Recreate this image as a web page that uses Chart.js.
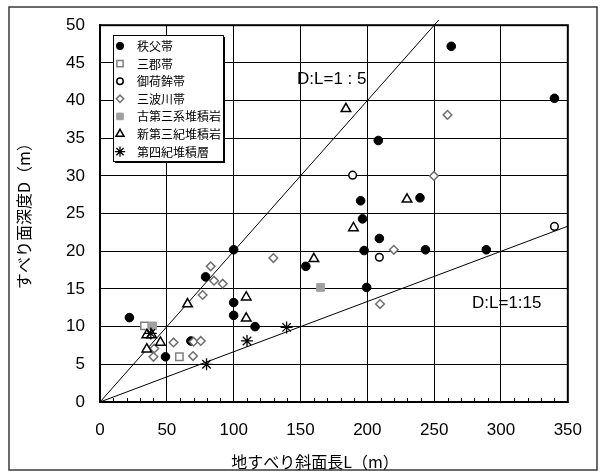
<!DOCTYPE html>
<html>
<head>
<meta charset="utf-8">
<script src="https://cdn.jsdelivr.net/npm/chart.js@4/dist/chart.umd.min.js"></script>
<style>
html,body{margin:0;padding:0;background:#fff;}
canvas{display:block;}
</style>
</head>
<body>
<canvas id="c" width="600" height="472" style="width:600px;height:472px"></canvas>
<script>
// ---- data (L: slope length m, D: slip-surface depth m) ----
const chichibuL = [22, 49, 68, 79, 100, 100, 100, 116, 154, 195, 196.4, 197.6, 199.5, 208.2, 209, 239.4, 243.5, 262.8, 289, 340];
const chichibuD = [11.2, 6, 8.1, 16.6, 20.2, 13.2, 11.5, 10, 18, 26.7, 24.3, 20.1, 15.2, 34.7, 21.7, 27.1, 20.2, 47.2, 20.2, 40.3];
const sangunL = [33.3, 59.4];
const sangunD = [10.1, 6];
const mikabuL = [189, 209, 340];
const mikabuD = [30.1, 19.2, 23.3];
const sanbagawaL = [40.6, 40, 55, 70, 75.4, 69.6, 76.8, 82.8, 85.3, 91.8, 129.7, 209.5, 219.8, 249.8, 260];
const sanbagawaD = [7.1, 6, 7.9, 8, 8.1, 6.1, 14.2, 18, 16.1, 15.7, 19.1, 13, 20.2, 30, 38.1];
const paleogeneL = [39.4, 165];
const paleogeneD = [10.1, 15.2];
const neogeneL = [35, 38.6, 45.2, 35, 65.5, 109.4, 109.4, 160, 184, 189.6, 229.7];
const neogeneD = [8.9, 8.9, 7.9, 7, 13, 13.9, 11.1, 19, 38.9, 23.1, 26.9];
const quaternaryL = [38, 79.7, 110, 139.6];
const quaternaryD = [9.1, 5, 8.1, 9.9];
const line5L = [0, 253.5];
const line5D = [0, 50.7];
const line15L = [0, 350];
const line15D = [0, 23.33];
const xTicks = [0, 50, 100, 150, 200, 250, 300, 350];
const yTicks = [0, 5, 10, 15, 20, 25, 30, 35, 40, 45, 50];
const seriesNames = ['秩父帯', '三郡帯', '御荷鉾帯', '三波川帯', '古第三系堆積岩', '新第三紀堆積岩', '第四紀堆積層'];
const xTitle = '地すべり斜面長L（m）';
const yTitle = 'すべり面深度D（m）';
const note5 = 'D:L=1 : 5';
const note15 = 'D:L=1:15';

const pts = (xs, ys) => xs.map((v, i) => ({x: v, y: ys[i]}));
const CJK = '"Noto Sans CJK JP", "Noto Sans", sans-serif';
const NUM = '"Liberation Sans", Arial, sans-serif';

const datasets = [
  {label: seriesNames[0], data: pts(chichibuL, chichibuD), pointStyle: 'circle', pointRadius: 4.3, backgroundColor: '#000', borderColor: '#000', borderWidth: 1, order: 7, inLegend: true},
  {label: seriesNames[1], data: pts(sangunL, sangunD), pointStyle: 'rect', pointRadius: 5.2, backgroundColor: '#fff', borderColor: '#808080', borderWidth: 1.5, order: 6, inLegend: true},
  {label: seriesNames[2], data: pts(mikabuL, mikabuD), pointStyle: 'circle', pointRadius: 3.8, backgroundColor: '#fff', borderColor: '#000', borderWidth: 1.5, order: 5, inLegend: true},
  {label: seriesNames[3], data: pts(sanbagawaL, sanbagawaD), pointStyle: 'rectRot', pointRadius: 4.3, backgroundColor: '#fff', borderColor: '#707070', borderWidth: 1.5, order: 4, inLegend: true},
  {label: seriesNames[4], data: pts(paleogeneL, paleogeneD), pointStyle: 'rect', pointRadius: 5.5, backgroundColor: '#a0a0a0', borderColor: '#a0a0a0', borderWidth: 1, order: 3, inLegend: true},
  {label: seriesNames[5], data: pts(neogeneL, neogeneD), pointStyle: 'triangle', pointRadius: 5.5, backgroundColor: '#fff', borderColor: '#000', borderWidth: 1.5, order: 2, inLegend: true},
  {label: seriesNames[6], data: pts(quaternaryL, quaternaryD), pointStyle: 'star', pointRadius: 6, backgroundColor: '#000', borderColor: '#000', borderWidth: 1.3, order: 1, inLegend: true},
  {label: 'line5', data: pts(line5L, line5D), showLine: true, pointRadius: 0, borderColor: '#000', borderWidth: 1, clip: false, order: 10},
  {label: 'line15', data: pts(line15L, line15D), showLine: true, pointRadius: 0, borderColor: '#000', borderWidth: 1, order: 10}
];

function drawMarker(ctx, style, r, x, y) {
  ctx.beginPath();
  if (style === 'circle') {
    ctx.arc(x, y, r, 0, Math.PI * 2);
    ctx.fill(); ctx.stroke();
  } else if (style === 'rect') {
    const s = Math.SQRT1_2 * r;
    ctx.rect(x - s, y - s, 2 * s, 2 * s);
    ctx.fill(); ctx.stroke();
  } else if (style === 'rectRot') {
    ctx.moveTo(x - r, y); ctx.lineTo(x, y - r); ctx.lineTo(x + r, y); ctx.lineTo(x, y + r); ctx.closePath();
    ctx.fill(); ctx.stroke();
  } else if (style === 'triangle') {
    const h = r * 1.5, w = r * Math.sqrt(3) / 2;
    ctx.moveTo(x, y - r); ctx.lineTo(x + w, y + r / 2); ctx.lineTo(x - w, y + r / 2); ctx.closePath();
    ctx.fill(); ctx.stroke();
  } else if (style === 'star') {
    for (let k = 0; k < 4; k++) {
      const a = k * Math.PI / 4;
      ctx.moveTo(x - Math.cos(a) * r, y - Math.sin(a) * r);
      ctx.lineTo(x + Math.cos(a) * r, y + Math.sin(a) * r);
    }
    ctx.stroke();
  }
}

const decor = {
  id: 'decor',
  beforeDraw(chart) {
    const ctx = chart.ctx;
    ctx.save();
    ctx.fillStyle = '#fff';
    ctx.fillRect(0, 0, chart.width, chart.height);
    ctx.strokeStyle = '#3a3a3a';
    ctx.lineWidth = 1.5;
    ctx.strokeRect(9, 7, 588, 463);
    ctx.restore();
  },
  beforeDatasetsDraw(chart) {
    const {ctx, chartArea: a, scales: {x}} = chart;
    ctx.save();
    ctx.strokeStyle = '#000';
    ctx.lineWidth = 1;
    ctx.beginPath();
    for (let v = 10; v < 350; v += 10) {
      if (v % 50 === 0) continue;
      const px = Math.round(x.getPixelForValue(v)) + 0.5;
      ctx.moveTo(px, a.bottom);
      ctx.lineTo(px, a.bottom - 4);
    }
    ctx.stroke();
    ctx.lineWidth = 2;
    ctx.strokeRect(a.left, a.top, a.right - a.left, a.bottom - a.top);
    ctx.restore();
  },
  afterDraw(chart) {
    const {ctx, chartArea: a} = chart;
    ctx.save();
    // legend box
    const bx = 113.5, by = 35.5, bw = 110, bh = 126;
    ctx.fillStyle = '#000';
    ctx.fillRect(bx + 1.5, by + 1.5, bw, bh);
    ctx.fillStyle = '#fff';
    ctx.fillRect(bx, by, bw, bh);
    ctx.strokeStyle = '#000';
    ctx.lineWidth = 1;
    ctx.strokeRect(bx, by, bw, bh);
    const items = chart.data.datasets.filter(d => d.inLegend);
    items.forEach((d, i) => {
      const y = 46 + i * 17.6;
      ctx.fillStyle = d.backgroundColor;
      ctx.strokeStyle = d.borderColor;
      ctx.lineWidth = d.borderWidth;
      drawMarker(ctx, d.pointStyle, d.pointRadius * 0.85, 120, y);
      ctx.fillStyle = '#000';
      ctx.font = '12px ' + CJK;
      ctx.textAlign = 'left';
      ctx.textBaseline = 'middle';
      ctx.fillText(d.label, 137, y + 0.5);
    });
    // annotations
    ctx.fillStyle = '#000';
    ctx.font = '17px ' + NUM;
    ctx.textAlign = 'left';
    ctx.textBaseline = 'middle';
    ctx.fillText(note5, 297, 79);
    ctx.fillText(note15, 472, 303);
    // axis titles
    ctx.font = '16px ' + CJK;
    ctx.textAlign = 'center';
    ctx.textBaseline = 'middle';
    ctx.fillText(xTitle, 315, 462);
    ctx.translate(24, 212);
    ctx.rotate(-Math.PI / 2);
    ctx.fillText(yTitle, 0, 0);
    ctx.restore();
  }
};

new Chart(document.getElementById('c'), {
  type: 'scatter',
  data: {datasets},
  plugins: [decor],
  options: {
    responsive: false,
    devicePixelRatio: 1,
    animation: false,
    layout: {padding: {top: 22, right: 17, left: 0, bottom: 0}},
    plugins: {legend: {display: false}, tooltip: {enabled: false}},
    scales: {
      x: {
        type: 'linear', min: 0, max: 350,
        afterBuildTicks: s => { s.ticks = xTicks.map(v => ({value: v})); },
        afterFit: s => { s.height = 70; },
        ticks: {color: '#000', font: {family: NUM, size: 17}, padding: 18, maxRotation: 0},
        grid: {color: '#000', lineWidth: 1, drawTicks: false},
        border: {color: '#000', width: 2}
      },
      y: {
        type: 'linear', min: 0, max: 50,
        afterBuildTicks: s => { s.ticks = yTicks.map(v => ({value: v})); },
        afterFit: s => { s.width = 100; },
        ticks: {color: '#000', font: {family: NUM, size: 17}, padding: 15},
        grid: {color: '#000', lineWidth: 1, drawTicks: false},
        border: {color: '#000', width: 2}
      }
    }
  }
});
</script>
</body>
</html>
